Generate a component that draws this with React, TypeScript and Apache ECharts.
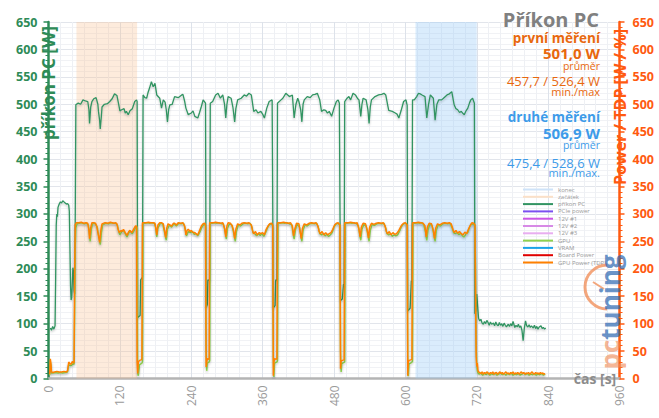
import React, { useEffect, useRef } from "react";
import * as echarts from "echarts";

// ---------- data ----------
const zacatekRange: [number, number] = [47, 149];
const konecRange: [number, number] = [617, 720];

const prikonPC: [number, number][] = [
  [3, 92], [5, 88], [7, 95], [9, 90], [11, 96], [12, 180], [13, 280], [14, 300], [15, 295], [16, 312], [18, 318], [20, 322], [22, 320], [24, 324], [26, 322], [28, 320], [30, 318], [32, 319], [34, 316], [35, 305], [36, 240], [37, 170], [38, 143], [39, 148], [40, 175], [41, 202], [42, 195], [43, 160], [44, 154], [45, 300], [46, 499],
  [47, 500], [50, 502], [54, 500], [58, 508], [62, 506], [66, 505], [68, 490], [69, 465], [71, 495], [73, 505], [76, 510], [80, 512], [83, 500], [84, 487], [86, 470], [87, 455], [89, 480], [90, 495], [94, 500], [99, 501], [103, 505], [107, 510], [111, 519], [115, 516], [118, 500], [120, 488], [123, 490], [127, 492], [129, 484], [131, 487], [134, 481], [137, 488], [141, 492], [145, 505], [148, 508],
  [149, 505], [150, 111], [154, 115], [155, 180], [158, 185], [159, 517],
  [162, 512], [165, 511], [167, 520], [170, 530], [173, 541], [176, 532], [179, 538], [182, 517], [187, 511], [190, 493], [193, 508], [196, 504], [198, 490], [200, 468], [202, 490], [204, 499], [208, 500], [212, 514], [218, 512], [224, 517], [226, 518], [229, 505], [231, 493], [235, 481], [240, 484], [243, 488], [246, 478], [251, 475], [254, 485], [257, 496], [260, 508], [264, 502],
  [265, 129], [267, 135], [268, 180], [271, 178], [272, 502],
  [276, 505], [281, 517], [285, 520], [289, 511], [293, 517], [296, 500], [298, 475], [300, 500], [302, 514], [307, 511], [310, 495], [313, 468], [315, 492], [318, 508], [324, 511], [329, 517], [333, 515], [337, 520], [341, 517], [345, 487], [349, 490], [352, 484], [357, 487], [360, 482], [363, 475], [367, 493], [371, 505], [376, 508],
  [378, 129], [381, 133], [382, 180], [384, 178], [385, 502],
  [388, 505], [391, 508], [394, 511], [399, 520], [405, 514], [410, 517], [413, 475], [416, 500], [419, 511], [421, 505], [424, 490], [426, 468], [428, 500], [430, 508], [435, 514], [440, 512], [444, 517], [448, 518], [452, 520], [456, 508], [459, 487], [463, 490], [466, 489], [469, 484], [472, 487], [476, 478], [480, 493], [484, 505], [487, 508], [489, 502],
  [491, 142], [494, 145], [496, 172], [497, 170], [498, 505],
  [502, 511], [505, 514], [508, 508], [512, 520], [516, 517], [520, 510], [522, 508], [525, 478], [527, 500], [529, 511], [534, 508], [537, 490], [539, 465], [541, 495], [543, 508], [549, 514], [555, 517], [560, 518], [564, 520], [567, 517], [570, 500], [572, 489], [578, 487], [583, 484], [586, 482], [589, 475], [593, 489], [597, 505], [601, 508], [603, 498],
  [604, 123], [608, 128], [610, 178], [611, 176], [612, 508],
  [615, 508], [619, 514], [622, 520], [625, 519], [628, 517], [633, 514], [636, 475], [639, 500], [642, 517], [647, 511], [650, 471], [653, 500], [656, 508], [661, 508], [665, 512], [670, 517], [674, 519], [678, 523], [682, 499], [685, 492], [688, 490], [691, 485], [694, 487], [697, 483], [699, 481], [702, 488], [705, 493], [708, 503], [710, 508], [713, 511], [716, 502],
  [717, 118], [719, 125], [720, 154], [721, 140], [723, 110], [725, 105],
  [727, 108], [729, 101], [731, 99], [733, 104], [735, 100], [737, 106], [739, 102], [741, 97], [743, 103], [745, 99], [748, 101], [750, 96], [752, 103], [754, 98], [756, 96], [758, 102], [760, 97], [762, 100], [764, 95], [766, 101], [768, 97], [770, 94], [773, 99], [775, 95], [777, 100], [779, 96], [781, 104], [784, 93], [786, 97], [788, 94], [790, 99], [792, 93], [794, 96], [796, 88], [798, 69], [800, 92], [802, 105], [804, 96], [806, 94], [808, 98], [810, 93], [812, 96], [815, 92], [817, 97], [819, 91], [821, 95], [823, 90], [825, 94], [828, 96], [830, 91], [832, 93], [834, 90], [836, 92],
];

const gpu: [number, number][] = [
  [2, 6], [3, 30], [4, 25], [5, 10], [8, 10], [12, 11], [16, 10], [20, 11], [24, 10], [28, 11], [32, 12], [34, 25], [36, 24], [38, 23], [41, 27], [43, 26], [44, 120], [45, 240], [46, 275], [48, 282],
  [52, 283], [56, 284], [60, 282], [64, 283], [67, 280], [69, 262], [70, 250], [72, 272], [74, 282], [78, 283], [82, 276], [84, 262], [86, 250], [87, 244], [89, 266], [91, 280], [96, 283], [101, 282], [105, 284], [109, 283], [113, 283], [116, 279], [118, 268], [120, 262], [123, 268], [126, 270], [129, 264], [132, 258], [135, 266], [138, 268], [141, 264], [144, 270], [147, 276], [149, 276],
  [150, 10], [151, 5], [153, 25], [157, 28], [158, 30], [159, 283],
  [162, 283], [166, 284], [170, 283], [174, 284], [178, 283], [180, 276], [182, 258], [184, 274], [188, 283], [192, 282], [194, 272], [196, 262], [198, 252], [200, 272], [203, 280], [207, 276], [211, 282], [215, 278], [219, 283], [223, 282], [227, 283], [230, 272], [232, 260], [235, 268], [239, 266], [242, 268], [245, 263], [248, 264], [251, 260], [254, 266], [258, 276], [261, 281], [264, 279],
  [265, 60], [266, 14], [267, 28], [270, 30], [271, 32], [272, 283],
  [275, 283], [279, 284], [283, 283], [287, 284], [291, 282], [294, 282], [297, 268], [299, 254], [301, 274], [304, 282], [308, 280], [310, 272], [312, 262], [314, 250], [316, 268], [319, 280], [323, 278], [327, 282], [331, 283], [335, 282], [339, 283], [342, 276], [344, 265], [347, 264], [350, 260], [353, 264], [356, 261], [359, 264], [362, 259], [365, 266], [368, 274], [371, 280], [374, 282], [377, 279],
  [378, 40], [379, 3], [380, 28], [384, 30], [385, 32], [386, 283],
  [389, 283], [393, 284], [397, 283], [401, 284], [405, 282], [409, 280], [411, 266], [413, 254], [415, 270], [418, 282], [422, 276], [424, 262], [426, 250], [428, 270], [431, 280], [435, 278], [439, 282], [443, 283], [447, 282], [451, 283], [454, 274], [456, 264], [459, 262], [462, 264], [465, 260], [468, 263], [471, 259], [474, 262], [477, 266], [480, 276], [483, 281], [486, 283], [489, 281], [490, 278],
  [491, 50], [492, 12], [493, 27], [496, 29], [498, 30], [499, 283],
  [502, 283], [506, 284], [510, 283], [514, 284], [518, 282], [521, 278], [523, 264], [525, 252], [527, 272], [530, 281], [534, 278], [537, 262], [539, 250], [541, 270], [544, 281], [548, 279], [552, 282], [556, 283], [560, 282], [564, 283], [567, 274], [569, 264], [572, 262], [575, 264], [578, 259], [581, 262], [584, 260], [587, 262], [590, 268], [593, 276], [596, 281], [599, 283], [602, 282], [603, 278],
  [604, 40], [605, 4], [606, 26], [610, 29], [612, 31], [613, 283],
  [616, 283], [620, 284], [624, 283], [628, 284], [631, 280], [634, 266], [636, 252], [638, 270], [641, 282], [645, 278], [648, 262], [650, 250], [652, 270], [655, 280], [659, 278], [663, 282], [667, 283], [671, 282], [675, 283], [678, 276], [681, 266], [684, 264], [687, 266], [690, 262], [693, 265], [696, 260], [699, 258], [702, 264], [705, 266], [708, 276], [711, 282], [714, 281], [717, 279],
  [718, 200], [719, 60], [720, 25], [721, 14], [722, 10],
  [724, 8], [727, 10], [730, 6], [733, 9], [736, 7], [739, 10], [742, 6], [745, 9], [748, 7], [751, 10], [754, 6], [757, 8], [760, 10], [763, 7], [766, 9], [769, 6], [772, 9], [775, 7], [778, 10], [781, 6], [784, 8], [787, 7], [790, 9], [793, 6], [796, 8], [799, 10], [802, 7], [805, 9], [808, 6], [811, 8], [814, 7], [817, 9], [820, 6], [823, 8], [826, 7], [829, 9], [832, 6], [835, 8],
];

const gpuPowerTDP: [number, number][] = [
  [2, 8], [3, 36], [4, 28], [5, 12], [7, 11], [10, 12], [14, 13], [18, 12], [22, 12], [26, 13], [30, 12], [32, 14], [33, 22], [34, 30], [36, 27], [38, 26], [40, 31], [42, 28], [43, 30], [44, 200], [45, 281], [47, 284],
  [51, 284], [55, 285], [59, 283], [63, 284], [66, 283], [68, 270], [69, 255], [71, 275], [73, 284], [76, 284], [79, 283], [81, 278], [83, 266], [85, 255], [86, 248], [88, 270], [90, 282], [95, 284], [100, 283], [104, 285], [107, 284], [110, 283], [113, 284], [115, 282], [117, 272], [119, 266], [122, 270], [124, 268], [126, 272], [129, 266], [132, 261], [135, 268], [137, 270], [140, 266], [143, 272], [146, 278], [148, 278],
  [149, 30], [150, 9], [151, 30], [153, 33], [156, 34], [157, 36], [158, 284],
  [160, 284], [164, 284], [168, 285], [172, 284], [176, 284], [179, 283], [181, 270], [182, 262], [184, 280], [187, 284], [190, 284], [193, 282], [195, 270], [197, 257], [199, 275], [201, 282], [204, 280], [207, 278], [210, 283], [212, 283], [215, 280], [218, 284], [222, 283], [226, 284], [229, 278], [231, 262], [233, 270], [235, 272], [238, 268], [240, 270], [243, 266], [246, 266], [249, 263], [251, 262], [254, 270], [257, 278], [260, 282], [263, 283], [264, 280],
  [265, 21], [266, 30], [267, 36], [270, 35], [271, 284],
  [273, 284], [277, 284], [281, 285], [285, 284], [289, 283], [293, 284], [296, 274], [298, 258], [300, 278], [302, 284], [306, 283], [309, 278], [311, 270], [313, 255], [315, 272], [318, 282], [322, 280], [325, 283], [329, 284], [333, 283], [337, 284], [341, 280], [343, 270], [345, 264], [348, 268], [351, 262], [354, 266], [357, 264], [360, 266], [363, 262], [366, 272], [369, 278], [372, 282], [375, 283], [377, 280],
  [378, 5], [379, 30], [380, 36], [383, 35], [384, 36], [385, 284],
  [387, 284], [391, 284], [395, 285], [399, 284], [403, 283], [407, 284], [410, 278], [412, 260], [414, 272], [417, 283], [421, 282], [423, 268], [425, 255], [427, 274], [430, 282], [434, 280], [438, 283], [442, 284], [446, 283], [450, 284], [453, 278], [455, 268], [457, 264], [460, 268], [463, 262], [466, 266], [469, 262], [472, 264], [475, 266], [478, 272], [481, 280], [484, 283], [487, 284], [490, 280],
  [491, 18], [492, 32], [494, 33], [497, 34], [498, 284],
  [500, 284], [504, 284], [508, 285], [512, 284], [516, 283], [519, 284], [522, 272], [524, 258], [526, 276], [529, 283], [533, 282], [536, 270], [538, 256], [540, 276], [543, 283], [547, 281], [551, 283], [555, 284], [559, 283], [563, 284], [566, 278], [568, 268], [570, 264], [573, 268], [576, 262], [579, 266], [582, 263], [585, 264], [588, 268], [591, 274], [594, 280], [597, 283], [600, 284], [603, 280],
  [604, 5], [605, 30], [606, 33], [609, 34], [611, 35], [612, 284],
  [614, 284], [618, 284], [622, 285], [626, 284], [630, 283], [633, 278], [635, 258], [637, 276], [640, 283], [644, 282], [647, 270], [649, 255], [651, 274], [654, 282], [658, 280], [662, 283], [666, 284], [670, 283], [674, 284], [677, 282], [680, 272], [682, 266], [685, 270], [688, 265], [691, 268], [694, 264], [697, 262], [700, 267], [703, 264], [706, 272], [709, 279], [712, 284], [715, 283], [717, 280],
  [718, 150], [719, 40], [720, 22], [721, 28], [722, 15], [723, 12],
  [725, 11], [727, 9], [729, 12], [731, 8], [733, 11], [735, 9], [737, 12], [739, 10], [741, 8], [743, 11], [745, 9], [747, 12], [749, 8], [751, 10], [753, 11], [755, 8], [757, 10], [759, 12], [761, 9], [763, 11], [765, 8], [767, 10], [769, 12], [771, 9], [773, 10], [775, 8], [777, 11], [779, 9], [781, 12], [783, 8], [785, 10], [787, 9], [789, 11], [791, 8], [793, 10], [795, 12], [797, 9], [799, 11], [801, 8], [803, 10], [805, 9], [807, 11], [809, 8], [811, 10], [813, 12], [815, 9], [817, 8], [819, 11], [821, 9], [823, 10], [825, 8], [827, 11], [829, 9], [831, 10], [833, 8], [835, 9],
];

const legendNames = [
  "konec", "začátek", "příkon PC", "PCIe power", "12V #1", "12V #2", "12V #3",
  "GPU", "VRAM", "Board Power", "GPU Power (TDP)",
];

const statsFirst = { title: "první měření", avg: "501,0 W", minmax: "457,7 / 526,4 W" };
const statsSecond = { title: "druhé měření", avg: "506,9 W", minmax: "475,4 / 528,6 W" };

// ---------- styles ----------
const FONT = '"Open Sans", "Noto Sans", sans-serif';
const GREEN = "#2e8b57";
const LINE_GREEN = "#329462";
const ORANGE_AX = "#ff5a10";
const ORANGE_TXT = "#e8680e";
const BLUE_TXT = "#3d9be9";
const GRAY = "#808080";

const emptyColors: Record<string, string> = {
  "PCIe power": "#7b4ff0",
  "12V #1": "#cc55e6",
  "12V #2": "#d78ae6",
  "12V #3": "#e8aef0",
  VRAM: "#1aa3e8",
  "Board Power": "#e00000",
};

function buildOption() {
  const shadow = { shadowColor: "rgba(0,0,0,0.22)", shadowBlur: 2, shadowOffsetY: 1.5 };
  const series: any[] = [
    {
      name: "konec", type: "line", data: [], symbol: "none",
      itemStyle: { color: "#cfe3f8" }, lineStyle: { color: "#cfe3f8", width: 2 },
      markArea: {
        silent: true,
        itemStyle: { color: "rgba(150,200,245,0.35)" },
        data: [[{ xAxis: konecRange[0] }, { xAxis: konecRange[1] }]],
      },
    },
    {
      name: "začátek", type: "line", data: [], symbol: "none",
      itemStyle: { color: "#fbe0c8" }, lineStyle: { color: "#fbe0c8", width: 2 },
      markArea: {
        silent: true,
        itemStyle: { color: "rgba(250,190,140,0.3)" },
        data: [[{ xAxis: zacatekRange[0] }, { xAxis: zacatekRange[1] }]],
      },
    },
    {
      name: "příkon PC", type: "line", data: prikonPC, symbol: "none", showSymbol: false,
      itemStyle: { color: LINE_GREEN }, lineStyle: { color: LINE_GREEN, width: 1.3, ...shadow }, z: 3,
    },
  ];
  for (const n of ["PCIe power", "12V #1", "12V #2", "12V #3"]) {
    series.push({ name: n, type: "line", data: [], symbol: "none", itemStyle: { color: emptyColors[n] }, lineStyle: { color: emptyColors[n] } });
  }
  series.push({
    name: "GPU", type: "line", data: gpu, symbol: "none", showSymbol: false, yAxisIndex: 1,
    itemStyle: { color: "#8fd14f" }, lineStyle: { color: "#8fd14f", width: 1.5, ...shadow }, z: 4,
  });
  for (const n of ["VRAM", "Board Power"]) {
    series.push({ name: n, type: "line", data: [], symbol: "none", yAxisIndex: 1, itemStyle: { color: emptyColors[n] }, lineStyle: { color: emptyColors[n] } });
  }
  series.push({
    name: "GPU Power (TDP)", type: "line", data: gpuPowerTDP, symbol: "none", showSymbol: false, yAxisIndex: 1,
    itemStyle: { color: "#ff8000" }, lineStyle: { color: "#ff8000", width: 1.5, ...shadow }, z: 5,
  });

  const t = (text: string, x: number, y: number, font: string, fill: string) => ({
    type: "text", x, y, z: 100, silent: true,
    style: { text, font, fill, align: "right", verticalAlign: "middle" },
  });

  const graphic: any[] = [
    t("Příkon PC", 599, 19, `bold 20px ${FONT}`, GRAY),
    t(statsFirst.title, 600, 38, `bold 13.5px ${FONT}`, ORANGE_TXT),
    t(statsFirst.avg, 600, 52.5, `bold 15px ${FONT}`, ORANGE_TXT),
    t("průměr", 600, 66, `10.5px ${FONT}`, ORANGE_TXT),
    t(statsFirst.minmax, 600, 81, `13px ${FONT}`, ORANGE_TXT),
    t("min./max", 600, 91.5, `11px ${FONT}`, ORANGE_TXT),
    t(statsSecond.title, 600, 116.5, `bold 13.5px ${FONT}`, BLUE_TXT),
    t(statsSecond.avg, 600, 133, `bold 15px ${FONT}`, BLUE_TXT),
    t("průměr", 600, 144.5, `10.5px ${FONT}`, BLUE_TXT),
    t(statsSecond.minmax, 600, 162.5, `13px ${FONT}`, BLUE_TXT),
    t("min./max.", 600, 172.5, `11px ${FONT}`, BLUE_TXT),
    {
      type: "text", x: 48.5, y: 83, rotation: Math.PI / 2, z: 100, silent: true,
      style: { text: "příkon PC [W]", font: `bold 17px ${FONT}`, fill: GREEN, align: "center", verticalAlign: "middle" },
    },
    {
      type: "text", x: 619.5, y: 107, rotation: Math.PI / 2, z: 100, silent: true,
      style: { text: "Power / TDP [W / %]", font: `bold 16px ${FONT}`, fill: ORANGE_AX, align: "center", verticalAlign: "middle" },
    },
    {
      type: "text", x: 595, y: 378, z: 100, silent: true,
      style: { text: "čas [s]", font: `bold 14px ${FONT}`, fill: "#8c8c8c", align: "center", verticalAlign: "middle" },
    },
    // watermark
    {
      type: "arc", z: 90, silent: true,
      shape: { cx: 607, cy: 287, r: 22, startAngle: Math.PI * 0.5, endAngle: Math.PI * 1.5, clockwise: true },
      style: { stroke: "rgba(240,130,70,0.7)", lineWidth: 3, fill: "none" },
    },
    {
      type: "line", z: 90, silent: true,
      shape: { x1: 604, y1: 289, x2: 593, y2: 282 },
      style: { stroke: "rgba(240,130,70,0.7)", lineWidth: 2 },
    },
    {
      type: "text", x: 610, y: 312, rotation: Math.PI / 2, z: 91, silent: true,
      style: {
        text: "{a|pc}{b|tuning}", align: "center", verticalAlign: "middle",
        rich: {
          a: { fill: "rgba(240,140,90,0.65)", fontSize: 26, fontWeight: "bold", fontFamily: FONT },
          b: { fill: "rgba(40,100,175,0.7)", fontSize: 26, fontWeight: "bold", fontFamily: FONT },
        },
      },
    },
  ];

  return {
    animation: false,
    backgroundColor: "#ffffff",
    textStyle: { fontFamily: FONT },
    grid: { left: 48.5, right: 39.5, top: 22, bottom: 39.5, containLabel: false },
    legend: {
      orient: "vertical", left: 518, top: 181, icon: "rect", itemWidth: 30, itemHeight: 2,
      itemGap: 0.3, selectedMode: false, data: legendNames,
      textStyle: { fontSize: 6, color: "#9a9a9a", lineHeight: 7, fontFamily: FONT },
    },
    xAxis: {
      type: "value", min: 0, max: 960, interval: 120,
      axisLine: { show: true, onZero: false, lineStyle: { color: "#b4b4b4", width: 2.5 } },
      axisTick: { show: false },
      axisLabel: { rotate: 90, color: "#9a9a9a", fontSize: 12, margin: 7, fontFamily: FONT },
      splitLine: { show: true, lineStyle: { color: "#dde2ea", width: 1 } },
      minorTick: { show: false, splitNumber: 6 },
      minorSplitLine: { show: true, lineStyle: { color: "#eef0f4", width: 1 } },
    },
    yAxis: [
      {
        type: "value", min: 0, max: 650, interval: 50, position: "left",
        axisLine: { show: true, lineStyle: { color: GREEN, width: 2.5 } },
        axisTick: { show: true, length: 5, lineStyle: { color: GREEN, width: 1.5 } },
        minorTick: { show: true, splitNumber: 5, length: 3, lineStyle: { color: GREEN, width: 1 } },
        axisLabel: { color: GREEN, fontWeight: "bold", fontSize: 12.5, margin: 11, fontFamily: FONT },
        splitLine: { show: true, lineStyle: { color: "#e2e5eb", width: 1 } },
        minorSplitLine: { show: true, lineStyle: { color: "#f1f2f5", width: 1 } },
      },
      {
        type: "value", min: 0, max: 650, interval: 50, position: "right",
        axisLine: { show: true, lineStyle: { color: ORANGE_AX, width: 2.5 } },
        axisTick: { show: true, length: 5, lineStyle: { color: ORANGE_AX, width: 1.5 } },
        minorTick: { show: true, splitNumber: 5, length: 3, lineStyle: { color: ORANGE_AX, width: 1 } },
        axisLabel: { color: ORANGE_AX, fontWeight: "bold", fontSize: 12.5, margin: 13, fontFamily: FONT },
        splitLine: { show: false },
      },
    ],
    series,
    graphic,
  };
}

export default function App() {
  const ref = useRef<HTMLDivElement>(null);
  useEffect(() => {
    if (!ref.current) return;
    const chart = echarts.init(ref.current, null, { renderer: "svg" });
    chart.setOption(buildOption() as any);
    return () => chart.dispose();
  }, []);
  return (
    <div
      ref={ref}
      style={{ position: "fixed", left: 0, top: 0, width: 659, height: 418, background: "#fff" }}
    />
  );
}
